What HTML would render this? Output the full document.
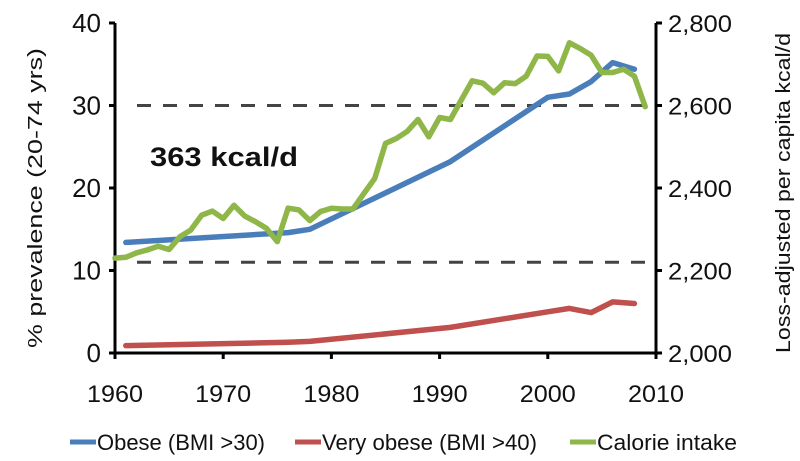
<!DOCTYPE html>
<html><head><meta charset="utf-8"><style>
body{margin:0;background:#fff;}
svg{display:block;font-family:"Liberation Sans",sans-serif;}
</style></head><body>
<svg id="chart" width="800" height="461" viewBox="0 0 800 461" xmlns="http://www.w3.org/2000/svg"></svg>
<script>
const calYears=[1960,1961,1962,1963,1964,1965,1966,1967,1968,1969,1970,1971,1972,1973,1974,1975,1976,1977,1978,1979,1980,1981,1982,1983,1984,1985,1986,1987,1988,1989,1990,1991,1992,1993,1994,1995,1996,1997,1998,1999,2000,2001,2002,2003,2004,2005,2006,2007,2008,2009];
const calValues=[2230,2232,2243,2250,2259,2251,2282,2298,2334,2344,2326,2358,2332,2318,2302,2270,2351,2347,2321,2343,2351,2349,2349,2387,2423,2508,2520,2537,2566,2524,2571,2566,2613,2660,2654,2631,2655,2653,2671,2720,2719,2684,2752,2738,2722,2680,2680,2688,2671,2597];
const obYears=[1961,1976,1978,1991,2000,2002,2004,2006,2008];
const obeseValues=[13.4,14.6,15.0,23.2,31.0,31.4,32.9,35.2,34.4];
const veryObeseValues=[0.9,1.3,1.4,3.1,5.0,5.4,4.9,6.2,6.0];
const xTicks=[1960,1970,1980,1990,2000,2010];
const leftTicks=[0,10,20,30,40];
const rightTicks=[2000,2200,2400,2600,2800];
const rightTickLabels=["2,000","2,200","2,400","2,600","2,800"];
const refLines=[2220,2600];

const NS="http://www.w3.org/2000/svg";
const svg=document.getElementById('chart');
const X0=115,X1=656,Y0=353,Y1=23;
const xs=y=>X0+(y-1960)/50*(X1-X0);
const yl=v=>Y0-v/40*(Y0-Y1);
const yr=v=>Y0-(v-2000)/800*(Y0-Y1);
function mk(tag,attrs,parent){const e=document.createElementNS(NS,tag);for(const k in attrs)e.setAttribute(k,attrs[k]);(parent||svg).appendChild(e);return e;}

refLines.forEach(v=>{
 const l=mk('line',{x1:xs(1960)+22,x2:X1,y1:yr(v),y2:yr(v),stroke:'#444','stroke-width':3,'stroke-dasharray':'14,12'});
 
 
});
const ann=mk('text',{x:150,y:166,'font-size':27,'font-weight':'bold',fill:'#111',textLength:148,lengthAdjust:'spacingAndGlyphs'});
ann.textContent='363 kcal/d';



const ax=mk('path',{d:`M${X0},${Y1} V${Y0} H${X1} V${Y1}`,stroke:'#000','stroke-width':3,fill:'none'});


xTicks.forEach(t=>{
 const tk=mk('line',{x1:xs(t),x2:xs(t),y1:Y0,y2:Y0+6,stroke:'#000','stroke-width':3});
 
 
 const tx=mk('text',{x:xs(t),y:402,'font-size':24,'text-anchor':'middle',fill:'#111',textLength:56,lengthAdjust:'spacingAndGlyphs'});
 tx.textContent=t;
 
 
});
leftTicks.forEach(t=>{
 const tk=mk('line',{x1:X0-6,x2:X0,y1:yl(t),y2:yl(t),stroke:'#000','stroke-width':3});
 
 
 const tx=mk('text',{x:X0-14,y:yl(t)+9,'font-size':26,'text-anchor':'end',fill:'#111'});
 tx.textContent=t;
 
 
});
rightTicks.forEach((t,i)=>{
 const tk=mk('line',{x1:X1,x2:X1+6,y1:yr(t),y2:yr(t),stroke:'#000','stroke-width':3});
 
 
 const tx=mk('text',{x:X1+12,y:yr(t)+9,'font-size':24,'text-anchor':'start',fill:'#111',textLength:64,lengthAdjust:'spacingAndGlyphs'});
 tx.textContent=rightTickLabels[i];
 
 
});
const lt=mk('text',{transform:`translate(42,${(Y0+Y1)/2+10}) rotate(-90)`,'font-size':20,'text-anchor':'middle',fill:'#111',textLength:300,lengthAdjust:'spacingAndGlyphs'});
lt.textContent='% prevalence (20-74 yrs)';


const rt=mk('text',{transform:`translate(790,${(Y0+Y1)/2+5}) rotate(-90)`,'font-size':20,'text-anchor':'middle',fill:'#111',textLength:320,lengthAdjust:'spacingAndGlyphs'});
rt.textContent='Loss-adjusted per capita kcal/d';



function line(xv,yv,fy,color,name){
 const d=xv.map((x,i)=>(i?'L':'M')+xs(x).toFixed(1)+','+fy(yv[i]).toFixed(1)).join(' ');
 const p=mk('path',{d:d,stroke:color,'stroke-width':5.5,fill:'none','stroke-linejoin':'round','stroke-linecap':'round'});
 
 
}
line(obYears,veryObeseValues,yl,'#c0504d','very-obese-line');
line(obYears,obeseValues,yl,'#4a7ebb','obese-line');
line(calYears,calValues,yr,'#8fb649','calorie-intake-line');

const leg=[['#4a7ebb','Obese (BMI >30)',70,168],['#c0504d','Very obese (BMI >40)',295,215],['#8fb649','Calorie intake',570,140]];
leg.forEach(([c,t,x,w])=>{
 const g=mk('g',{});
 
 
 mk('line',{x1:x,x2:x+26,y1:442,y2:442,stroke:c,'stroke-width':5},g);
 const tx=mk('text',{x:x+27,y:450,'font-size':22,fill:'#111',textLength:w,lengthAdjust:'spacingAndGlyphs'},g);
 tx.textContent=t;
});
</script>
</body></html>
